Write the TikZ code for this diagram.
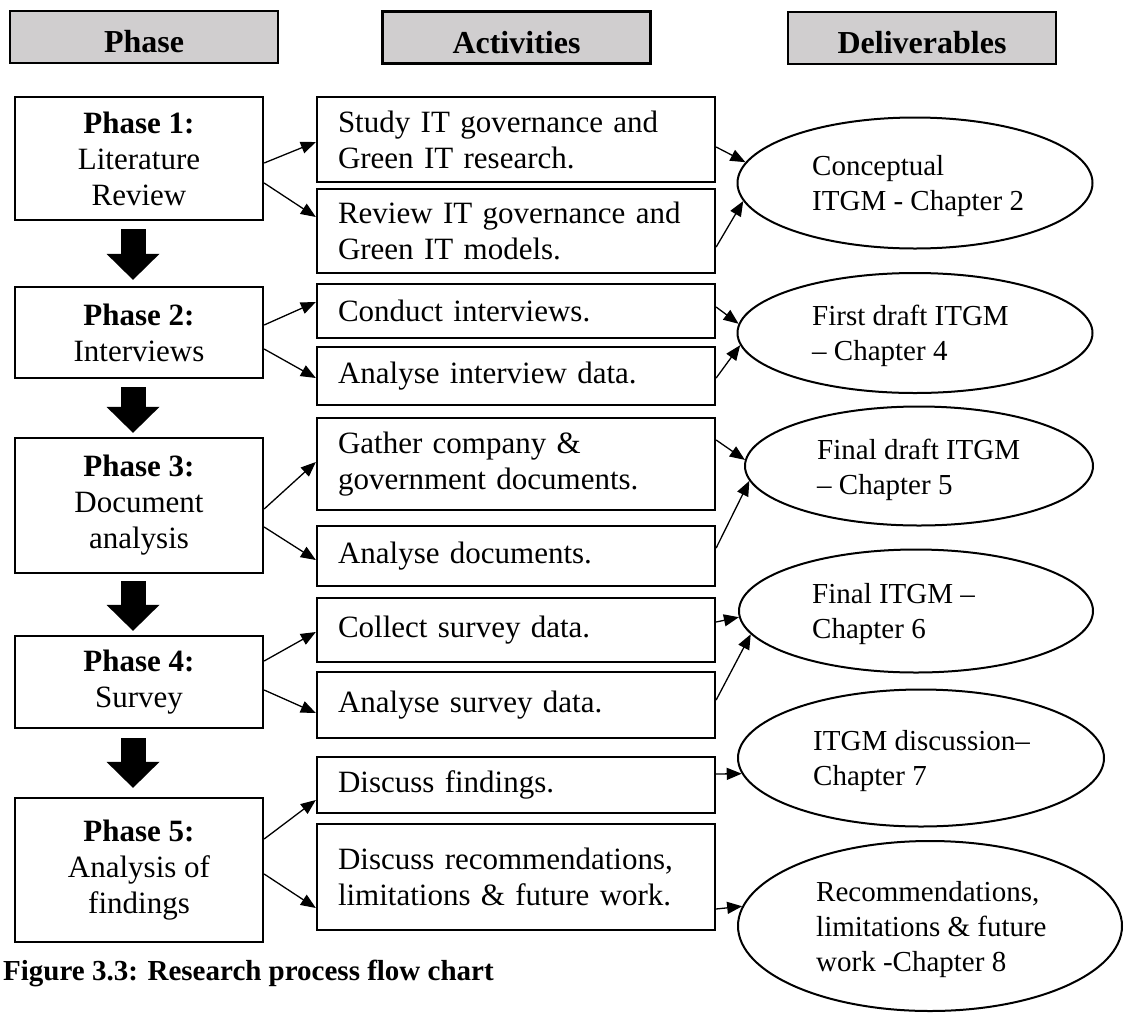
\documentclass[tikz,border=0pt]{standalone}
\usepackage{fontspec}
\setmainfont{Liberation Serif}
\usetikzlibrary{arrows.meta, shapes.geometric}
\definecolor{hdrgray}{RGB}{208,206,207}
\tikzset{
  hdr/.style={draw, line width=2.5pt, fill=hdrgray, minimum width=268pt, minimum height=52pt, inner sep=0pt, text height=31pt, text depth=0pt, font=\fontsize{32}{36}\selectfont\bfseries},
  phasebox/.style={draw, line width=2.3pt, minimum width=248pt, inner sep=0pt, align=center, font=\fontsize{31}{36}\selectfont},
  actbox/.style={draw, line width=2.3pt, minimum width=398pt, inner xsep=21pt, inner ysep=0pt, text width=356pt, align=left, font=\fontsize{31}{36}\selectfont},
  deliv/.style={draw, ellipse, line width=2pt, inner sep=0pt},
  deltext/.style={anchor=west, align=left, inner sep=0pt, font=\fontsize{29}{35}\selectfont},
  conn/.style={line width=1.3pt, -{Triangle[length=15pt,width=12pt]}},
  bigarrow/.style={line width=25pt, -{Triangle[length=26pt,width=53pt,line width=0pt]}},
}
\begin{document}
\begin{tikzpicture}[x=1pt, y=-1pt]
\useasboundingbox (0,0) rectangle (1136,1013);
% headers
\node[hdr] (h1) at (144,37) {Phase};
\node[hdr] (h2) at (516.5,37.5) {Activities};
\node[hdr] (h3) at (922,38) {Deliverables};
% phases
\node[phasebox, minimum height=123pt] (p1) at (139,158.5) {\textbf{Phase 1:}\\Literature\\Review};
\node[phasebox, minimum height=91pt] (p2) at (139,332.5) {\textbf{Phase 2:}\\Interviews};
\node[phasebox, minimum height=135pt] (p3) at (139,505.5) {\textbf{Phase 3:}\\Document\\analysis};
\node[phasebox, minimum height=92pt] (p4) at (139,682) {\textbf{Phase 4:}\\Survey};
\node[phasebox, minimum height=144pt] (p5) at (139,870) {\textbf{Phase 5:}\\Analysis of\\findings};
% activities
\node[actbox, minimum height=85pt] (a1) at (516,139.5) {Study IT governance and\\Green IT research.};
\node[actbox, minimum height=84pt] (a2) at (516,231) {Review IT governance and\\Green IT models.};
\node[actbox, minimum height=54pt] (a3) at (516,311) {Conduct interviews.};
\node[actbox, minimum height=58pt] (a4) at (516,376) {Analyse interview data.};
\node[actbox, minimum height=92pt] (a5) at (516,464) {Gather company \&\\government documents.};
\node[actbox, minimum height=60pt] (a6) at (516,556) {Analyse documents.};
\node[actbox, minimum height=64pt] (a7) at (516,630) {Collect survey data.};
\node[actbox, minimum height=66pt] (a8) at (516,705) {Analyse survey data.};
\node[actbox, minimum height=56pt] (a9) at (516,785) {Discuss findings.};
\node[actbox, minimum height=106pt] (a10) at (516,877) {Discuss recommendations,\\limitations \& future work.};
% deliverables
\node[deliv, minimum width=355pt, minimum height=131pt] (e1) at (915,183) {};
\node[deliv, minimum width=355pt, minimum height=120pt] (e2) at (915,333) {};
\node[deliv, minimum width=348pt, minimum height=119pt] (e3) at (919,466) {};
\node[deliv, minimum width=354pt, minimum height=123pt] (e4) at (916,611) {};
\node[deliv, minimum width=366pt, minimum height=137pt] (e5) at (921,758) {};
\node[deliv, minimum width=384pt, minimum height=170pt] (e6) at (930,926) {};
\node[deltext] (t1) at (812,186) {Conceptual\\ITGM - Chapter 2};
\node[deltext] (t2) at (812,336) {First draft ITGM\\– Chapter 4};
\node[deltext] (t3) at (817,470) {Final draft ITGM\\– Chapter 5};
\node[deltext] (t4) at (812,614) {Final ITGM –\\Chapter 6};
\node[deltext] (t5) at (813,761) {ITGM discussion–\\Chapter 7};
\node[deltext] (t6) at (816,930) {Recommendations,\\limitations \& future\\work -Chapter 8};
% big arrows
\draw[bigarrow] ([xshift=-6pt,yshift=-8pt]p1.south) -- ([xshift=-6pt,yshift=6pt]p2.north);
\draw[bigarrow] ([xshift=-6pt,yshift=-8pt]p2.south) -- ([xshift=-6pt,yshift=4pt]p3.north);
\draw[bigarrow] ([xshift=-6pt,yshift=-7pt]p3.south) -- ([xshift=-6pt,yshift=4pt]p4.north);
\draw[bigarrow] ([xshift=-6pt,yshift=-9pt]p4.south) -- ([xshift=-6pt,yshift=9pt]p5.north);
% phase -> activity
\draw[conn] (p1.east |- 0,163) -- (a1.west |- 0,142);
\draw[conn] (p1.east |- 0,183) -- (a2.west |- 0,217);
\draw[conn] (p2.east |- 0,325) -- (a3.west |- 0,302);
\draw[conn] (p2.east |- 0,349) -- (a4.west |- 0,378);
\draw[conn] (p3.east |- 0,509) -- (a5.west |- 0,462);
\draw[conn] (p3.east |- 0,527) -- (a6.west |- 0,560);
\draw[conn] (p4.east |- 0,661) -- (a7.west |- 0,632);
\draw[conn] (p4.east |- 0,690) -- (a8.west |- 0,713);
\draw[conn] (p5.east |- 0,839) -- (a9.west |- 0,800);
\draw[conn] (p5.east |- 0,874) -- (a10.west |- 0,908);
% activity -> deliverable
\draw[conn] (a1.east |- 0,147) -- (e1.173.3);
\draw[conn] (a2.east |- 0,247) -- (e1.186.7);
\draw[conn] (a3.east |- 0,307) -- (e2.177.4);
\draw[conn] (a4.east |- 0,378) -- (e2.184.7);
\draw[conn] (a5.east |- 0,440) -- (e3.178);
\draw[conn] (a6.east |- 0,548) -- (e3.185.3);
\draw[conn] (a7.east |- 0,622) -- (e4.182.9);
\draw[conn] (a8.east |- 0,700) -- (e4.188.6);
\draw[conn] (a9.east |- 0,774) -- (e5.185);
\draw[conn] (a10.east |- 0,909) -- (e6.174.9);
% caption
\node[anchor=base west, inner sep=0pt, font=\fontsize{29}{34}\selectfont\bfseries] (cap) at (3,980) {Figure 3.3: Research process flow chart};
\end{tikzpicture}
\end{document}
